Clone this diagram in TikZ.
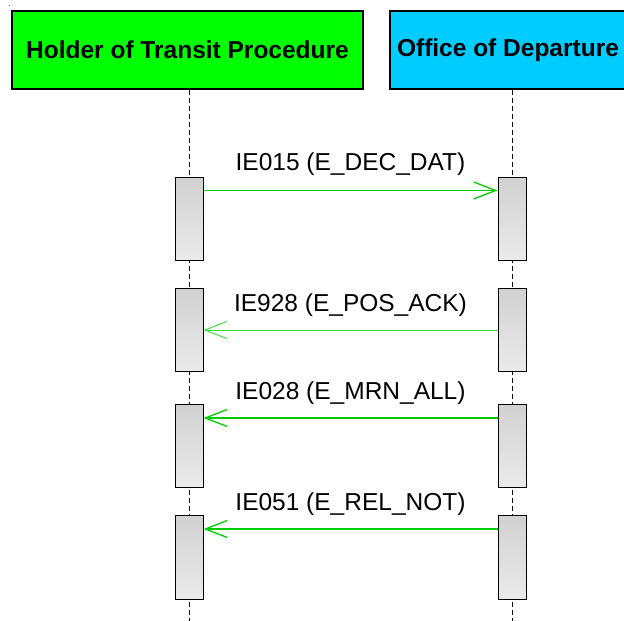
\documentclass[tikz,border=0pt]{standalone}
\usepackage{fontspec}
\setmainfont{Liberation Sans}
\usetikzlibrary{arrows.meta}
\definecolor{holder}{HTML}{00FF00}
\definecolor{office}{HTML}{00CCFF}
\definecolor{msg}{HTML}{00CC00}
\definecolor{msglight}{HTML}{33DD33}
\tikzset{
  header/.style={draw=black, line width=1.2pt, minimum height=78pt, inner sep=0pt, font=\fontsize{24.5}{28}\selectfont\bfseries},
  actbox/.style={draw=black, line width=1pt, top color=gray!36, bottom color=gray!16, minimum width=28pt, inner sep=0pt},
  lifeline/.style={black, line width=1pt, dash pattern=on 5pt off 3pt},
  message/.style={msg, line width=1.3pt, -{Straight Barb[length=22pt,width=17pt,line width=1.3pt]}},
  msgthin/.style={msglight, line width=0.9pt, -{Straight Barb[length=22pt,width=17pt,line width=0.9pt]}},
  msglabel/.style={font=\fontsize{24.5}{28}\selectfont, inner sep=0pt},
}
\begin{document}
\begin{tikzpicture}[x=1pt,y=-1pt]
\useasboundingbox (0,0) rectangle (624,621);
\fill[gray] (8.8,4.8) rectangle (10.2,6.2);
\begin{scope}
\clip (0,0) rectangle (624,621);
% headers
\node[header, fill=holder, minimum width=351pt] (hold) at (187.5,50) {Holder of Transit Procedure};
\node[header, fill=office, minimum width=244pt] (off) at (512,50) {\hspace*{-8pt}Office of Departure};
\end{scope}
% lifeline ends
\coordinate (hend) at (189,621);
\coordinate (oend) at (512,621);
\draw[lifeline] (hold.south -| hend) -- (hend);
\draw[lifeline] (off.south) -- (oend);
% activation boxes
\node[actbox, minimum height=83pt, anchor=north] (h1) at (189,177) {};
\node[actbox, minimum height=83pt, anchor=north] (o1) at (512,177) {};
\node[actbox, minimum height=83pt, anchor=north] (h2) at (189,288) {};
\node[actbox, minimum height=83pt, anchor=north] (o2) at (512,288) {};
\node[actbox, minimum height=83pt, anchor=north] (h3) at (189,404) {};
\node[actbox, minimum height=83pt, anchor=north] (o3) at (512,404) {};
\node[actbox, minimum height=84pt, anchor=north] (h4) at (189,515) {};
\node[actbox, minimum height=84pt, anchor=north] (o4) at (512,515) {};
% messages
\draw[message] ([yshift=-13.5pt]h1.north east) -- ([yshift=-13.5pt]o1.north west);
\draw[msgthin] ([yshift=-42pt]o2.north west) -- ([yshift=-42pt]h2.north east);
\draw[message] ([yshift=-14pt]o3.north west) -- ([yshift=-14pt]h3.north east);
\draw[message] ([yshift=-14pt]o4.north west) -- ([yshift=-14pt]h4.north east);
% labels
\node[msglabel] (l1) at (350.5,164) {IE015 (E\_DEC\_DAT)};
\node[msglabel] (l2) at (350.5,305) {IE928 (E\_POS\_ACK)};
\node[msglabel] (l3) at (350.5,393) {IE028 (E\_MRN\_ALL)};
\node[msglabel] (l4) at (350.5,504) {IE051 (E\_REL\_NOT)};
\end{tikzpicture}
\end{document}
